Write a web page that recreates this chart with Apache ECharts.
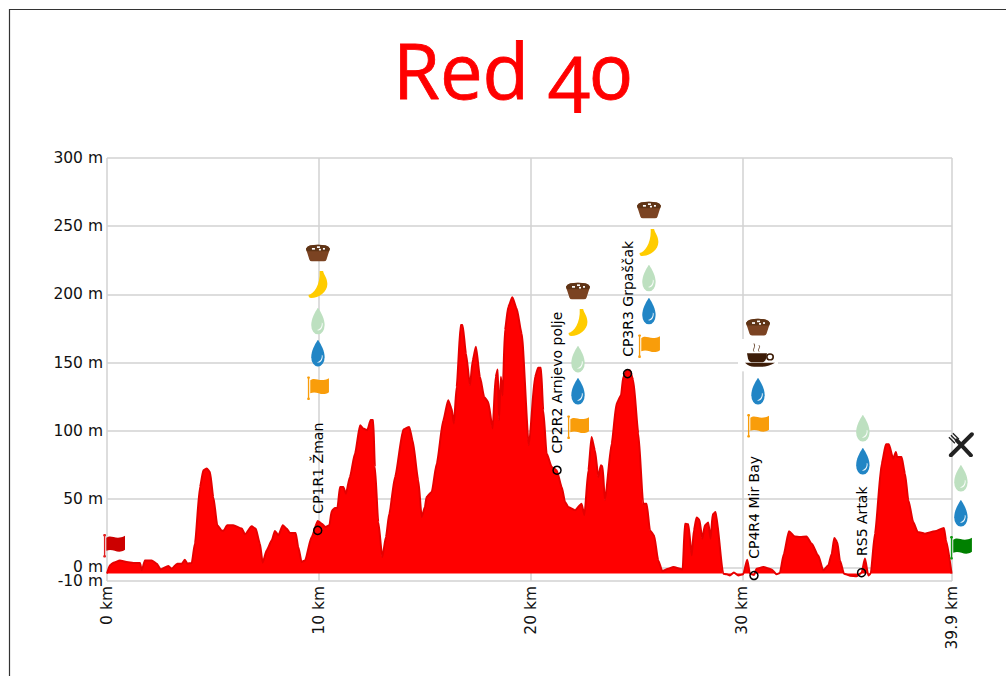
<!DOCTYPE html>
<html lang="en">
<head>
    <meta charset="UTF-8">
    <title>Red 40</title>
    <script src="https://cdn.jsdelivr.net/npm/echarts@6/dist/echarts.min.js"></script>
    <style>
        html, body { margin: 0; padding: 0; background: #fff; }
        #main { width: 1006px; height: 676px; font-feature-settings: "onum" 1; font-variant-numeric: oldstyle-nums; }
    </style>
</head>
<body>
<div id="main"></div>
<script>
    // elevation profile
    var distanceKm = [0, 0.14, 0.30, 0.61, 0.93, 1.24, 1.56, 1.64, 1.79, 2.11, 2.35, 2.53, 2.90, 3.05, 3.32, 3.53, 3.68, 3.79, 4.00, 4.15, 4.39, 4.55, 4.71, 4.86, 5.02, 5.21, 5.41, 5.49, 5.68, 5.96, 6.36, 6.52, 6.83, 7.02, 7.22, 7.35, 7.54, 7.78, 7.93, 8.09, 8.30, 8.48, 8.64, 8.91, 9.03, 9.19, 9.35, 9.66, 9.95, 10.14, 10.32, 10.50, 10.61, 10.76, 10.88, 11.0, 11.16, 11.28, 11.47, 11.71, 11.95, 12.10, 12.29, 12.45, 12.57, 12.65, 12.81, 13.0, 13.17, 13.33, 13.60, 13.99, 14.27, 14.43, 14.70, 14.86, 15.01, 15.09, 15.33, 15.57, 15.88, 16.11, 16.27, 16.38, 16.51, 16.70, 16.79, 16.95, 17.14, 17.27, 17.42, 17.61, 17.81, 18.0, 18.21, 18.35, 18.45, 18.51, 18.60, 18.68, 18.79, 18.95, 19.14, 19.34, 19.58, 19.92, 20.21, 20.36, 20.49, 20.6, 20.76, 21.0, 21.23, 21.47, 21.63, 21.78, 22.10, 22.41, 22.54, 22.73, 22.88, 23.04, 23.20, 23.32, 23.40, 23.51, 23.83, 24.06, 24.27, 24.38, 24.54, 24.69, 24.85, 25.09, 25.32, 25.48, 25.64, 25.83, 26.03, 26.22, 26.50, 26.74, 27.18, 27.29, 27.45, 27.61, 27.71, 27.84, 27.97, 28.11, 28.23, 28.39, 28.50, 28.60, 28.74, 29.10, 29.26, 29.41, 29.60, 29.81, 30.04, 30.23, 30.36, 30.55, 30.67, 30.99, 31.38, 31.62, 31.77, 31.96, 32.2, 32.48, 32.72, 33.03, 33.27, 33.58, 33.82, 34.06, 34.22, 34.34, 34.48, 34.61, 34.80, 35.08, 35.40, 35.63, 35.79, 35.95, 36.06, 36.26, 36.58, 36.78, 36.92, 37.12, 37.25, 37.31, 37.52, 37.68, 37.84, 38.07, 38.28, 38.62, 39.09, 39.52, 39.62, 39.88];
    var elevationM = [-4.5, 1.5, 3.4, 5.1, 3.9, 3.2, 3.2, -2.2, 5.1, 5.1, 2.7, -1.5, 1, -1, 2.7, 2.7, 5.6, 2.7, 3.2, 17.4, 58.9, 71.2, 72.4, 70, 51.6, 30.8, 27.1, 26.7, 30.8, 30.8, 28.4, 24.2, 30.1, 28.4, 17.4, 3.4, 12.5, 19.8, 26.7, 23.5, 30.8, 28.4, 25.2, 25.2, 14.9, 3.9, 5.1, 22.2, 34, 32, 29.6, 30.8, 41.3, 43.5, 43.5, 58.9, 58.9, 54, 66.3, 83.4, 104.2, 101.7, 100.5, 107.9, 107.9, 73.6, 33.2, 7.5, 22.2, 39.4, 66.3, 101, 102.9, 93.2, 63.8, 36.9, 44.2, 51.6, 55.2, 76.1, 107.9, 122.5, 116.4, 105.4, 132.3, 177.6, 177.6, 156.8, 133.5, 151.9, 161.6, 139.6, 124.9, 121.3, 101.8, 139.6, 145, 107.9, 139.6, 126, 173.9, 191, 198, 189.8, 171.5, 89.5, 139.6, 146.2, 146.2, 115.2, 83.4, 73.6, 71.2, 58.9, 47.9, 44.2, 41.8, 46.7, 38.2, 71.2, 95.6, 85.8, 66.3, 74.8, 74, 49.2, 90.8, 120.1, 126.2, 139.6, 144.5, 144.5, 137.2, 98.1, 46.7, 46.7, 27.1, 23.5, 5.1, -2.7, -1, 0.2, -1.5, 32, 31.5, 8.8, 27.1, 36.5, 35, 21, 30.8, 32.8, 21, 38.9, 40.6, -4.6, -5.1, -5.9, -3.7, -5.9, -5.1, 5.6, -4.6, -5.6, -1, 0.2, -1.5, -5.1, -4.2, 10, 26.4, 22.7, 22.2, 22.7, 17.4, 8.8, -2.2, 1.5, 10, 21.5, 18.6, 5.1, -4.6, -6.1, -6.6, -3.9, 6.4, -6, -4.6, 24.7, 76.1, 90.2, 90.2, 79.7, 84.6, 80.9, 80.9, 68.7, 49.2, 33.2, 25.9, 24.7, 26.4, 28.8, 19.8, -4.6];

    // axis ticks (-10 sits on its own axis, otherwise echarts drops it or the 0 as overlapping)
    var yTicks = [0, 50, 100, 150, 200, 250, 300];
    var yBottomTick = [-10];
    var xTicks = [0, 10, 20, 30, 39.9];

    // checkpoints: name, km, m
    var checkpointNames = ['CP1R1 Žman', 'CP2R2 Arnjevo polje', 'CP3R3 Grpaščak', 'CP4R4 Mir Bay', 'RS5 Artak'];
    var checkpointKm = [9.95, 21.25, 24.58, 30.55, 35.63];
    var checkpointM = [27.1, 71.2, 142, -6, -3.9];

    // refreshment icons placed above each checkpoint
    var muffinAt = [[9.96, 230.4], [22.24, 202.5], [25.59, 261.9], [30.74, 176]];
    var bananaAt = [[9.96, 206.9], [22.24, 179], [25.59, 237.7]];
    var isotonicAt = [[9.96, 180.5], [22.24, 152.6], [25.59, 212], [35.69, 102], [40.32, 65.3]];
    var waterAt = [[9.96, 157], [22.24, 129.1], [25.59, 187.8], [30.74, 129.1], [35.69, 77.8], [40.32, 39.6]];
    var checkpointFlagAt = [[9.96, 131.3], [22.24, 102.7], [25.59, 162.1], [30.74, 103.7]];
    var coffeeAt = [[30.74, 155.5]];
    var mealAt = [[40.32, 90.2]];
    var startFlagAt = [[0.33, 15.8]];
    var finishFlagAt = [[40.32, 14.3]];

    function svgIcon(w, h, body) {
        return 'image://data:image/svg+xml;charset=utf-8,' + encodeURIComponent(
            '<svg xmlns="http://www.w3.org/2000/svg" width="' + w + '" height="' + h + '" viewBox="0 0 ' + w + ' ' + h + '">' + body + '</svg>');
    }
    function dropIcon(color) {
        return svgIcon(19, 27, '<path fill="' + color + '" d="M9.5 0C14 5 19 11 19 17.5A9.5 9.5 0 0 1 0 17.5C0 11 5 5 9.5 0Z"/>' +
            '<path fill="#fff" opacity="0.9" d="M15 15C15.5 19.5 12 22 8 22.5C11 24 16.5 22 16.3 16Z"/>');
    }
    function flagIcon(color, pole) {
        return svgIcon(23, 24, '<rect x="1" y="1" width="1.4" height="22" fill="' + pole + '"/>' +
            '<circle cx="1.7" cy="1.4" r="1.4" fill="' + pole + '"/><circle cx="1.7" cy="22.6" r="1.4" fill="' + pole + '"/>' +
            '<path fill="' + color + '" d="M3.5 4C9 0 13 7 23 2L23 16C15 21 11 14 3.5 17Z"/>');
    }
    var muffinIcon = svgIcon(24, 20, '<path fill="#7b4322" d="M4 1Q12 -1 20 1Q23 2 24 5L20.5 18Q20 20 18 20L6 20Q4 20 3.5 18L0 5Q1 2 4 1Z"/>' +
        '<path fill="#5f3416" d="M4 1Q12 -1 20 1Q23 2 24 5L23.2 8L0.8 8L0 5Q1 2 4 1Z"/>' +
        '<rect x="6" y="4" width="3" height="2" fill="#fff"/><rect x="11" y="2" width="3" height="2" fill="#fff"/><rect x="13" y="5" width="2" height="2" fill="#fff"/><rect x="17" y="4" width="2" height="2" fill="#fff"/>');
    var bananaIcon = svgIcon(24, 28, '<path fill="#ffcc00" d="M14 0L18 0C19 4 23 7 23 13C23 21 13 27 4 27C2 27 1 26 1 24C7 23 15 14 14 0Z"/>');
    var coffeeIcon = svgIcon(40, 36, '<rect width="40" height="36" fill="#fff"/>' +
        '<path fill="#3d1d08" d="M9 16L29 16L28 22Q27 26 23 26L15 26Q11 26 10 22Z"/><path fill="#3d1d08" d="M7 26.5L37 26.5Q30 31 24 31L16 31Q11 31 7 26.5Z"/>' +
        '<circle cx="32" cy="20" r="3.2" fill="#fff" stroke="#3d1d08" stroke-width="1.6"/>' +
        '<path fill="none" stroke="#6b4a33" d="M16 14C14 11 18 10 16 5M21 14C19 11 23 10 21 7"/>');
    var mealIcon = svgIcon(26, 26, '<path stroke="#222" stroke-width="4" stroke-linecap="round" d="M3 24L24 3M9 9L23 24"/>' +
        '<path stroke="#222" stroke-width="1.3" fill="none" d="M1 6L7 12M3 4L9 10M5 2L11 8"/>');

    var myChart = echarts.init(document.getElementById('main'), null, {renderer: 'svg'});

    function iconSeries(points, icon, size) {
        return {
            type: 'scatter', data: points, symbol: icon, symbolSize: size,
            itemStyle: {opacity: 1},
            clip: false, silent: true, z: 4, animation: false
        };
    }
    function elevationAxis(ticks) {
        return {
            type: 'value', min: -10, max: 300, position: 'left',
            axisLine: {show: false},
            axisTick: {show: false, customValues: ticks},
            axisLabel: {
                customValues: ticks, margin: 4, interval: 0, showMinLabel: true, showMaxLabel: true,
                color: '#111', fontFamily: '"DejaVu Sans"', fontSize: 15.5,
                formatter: function (v) { return v + ' m'; }
            },
            splitLine: {show: true, lineStyle: {color: '#d2d2d2', width: 1.5}}
        };
    }

    var option = {
        animation: false,
        backgroundColor: '#fff',
        title: {
            text: 'Red 40',
            left: 388,
            top: 26,
            textStyle: {
                color: '#ff0000', fontFamily: '"Open Sans"', fontSize: 76, fontWeight: 'normal',
                textBorderColor: '#ff0000', textBorderWidth: 0.8
            }
        },
        grid: {left: 107, right: 54, top: 158, bottom: 95},
        xAxis: {
            type: 'value', min: 0, max: 39.9,
            axisLine: {show: false},
            axisTick: {show: false, customValues: xTicks},
            axisLabel: {
                customValues: xTicks, rotate: 90, margin: 5, interval: 0, showMinLabel: true, showMaxLabel: true,
                color: '#111', fontFamily: '"DejaVu Sans"', fontSize: 15.5,
                formatter: function (v) { return v + ' km'; }
            },
            splitLine: {show: true, lineStyle: {color: '#d2d2d2', width: 1.5}}
        },
        yAxis: [elevationAxis(yTicks), elevationAxis(yBottomTick)],
        series: [
            {
                type: 'line',
                data: distanceKm.map(function (km, i) { return [km, elevationM[i]]; }),
                showSymbol: false,
                smooth: 0.2,
                smoothMonotone: 'x',
                lineStyle: {color: '#e60000', width: 2},
                areaStyle: {color: '#ff0000', opacity: 1, origin: -4.5},
                z: 2
            },
            {
                type: 'scatter',
                data: checkpointNames.map(function (name, i) {
                    return {name: name, value: [checkpointKm[i], checkpointM[i]]};
                }),
                symbol: 'circle',
                symbolSize: 8,
                itemStyle: {color: 'rgba(0,0,0,0)', borderColor: '#000', borderWidth: 1.5, opacity: 1},
                label: {
                    show: true, position: 'top', distance: 13, rotate: 90,
                    align: 'left', verticalAlign: 'middle', offset: [-1, 0],
                    formatter: '{b}', color: '#000', fontFamily: '"DejaVu Sans"', fontSize: 14
                },
                clip: false, silent: true, z: 3
            },
            iconSeries(muffinAt, muffinIcon, [24, 20]),
            iconSeries(bananaAt, bananaIcon, [24, 28]),
            iconSeries(isotonicAt, dropIcon('#bde0c0'), [19, 27]),
            iconSeries(waterAt, dropIcon('#2185c5'), [19, 27]),
            iconSeries(checkpointFlagAt, flagIcon('#f99d0a', '#f99d0a'), [23, 24]),
            iconSeries(coffeeAt, coffeeIcon, [40, 36]),
            iconSeries(mealAt, mealIcon, [26, 26]),
            iconSeries(startFlagAt, flagIcon('#cc0000', '#e02020'), [23, 24]),
            iconSeries(finishFlagAt, flagIcon('#008000', '#119911'), [23, 24])
        ],
        graphic: [{
            type: 'polyline', silent: true,
            shape: {points: [[9.5, 676], [9.5, 9.5], [1006, 9.5]]},
            style: {stroke: '#333', lineWidth: 1.2, fill: null}
        }]
    };
    myChart.setOption(option);
</script>
</body>
</html>
